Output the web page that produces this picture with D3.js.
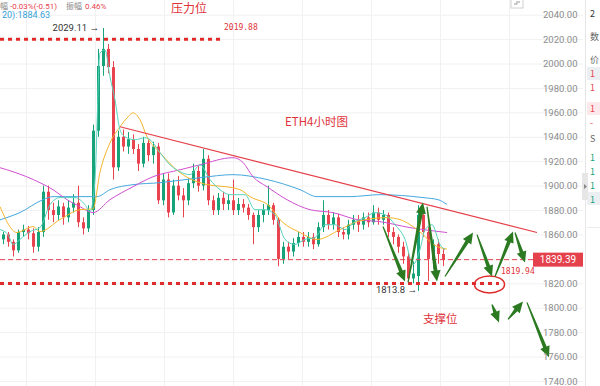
<!DOCTYPE html>
<html>
<head>
<meta charset="utf-8">
<script src="https://cdn.jsdelivr.net/npm/d3@7"></script>
<style>
  body { margin: 0; background: #fff; }
  svg { display: block; }
</style>
</head>
<body>
<div class="chart"></div>
<script>
// 4h candles
var opens  = [1856,1860,1854,1847,1862,1864,1861,1850,1862,1895, 1880,1876,1883,1874,1882,1886,1870,1865,1880,1945,
              1998,2012,1997,1915,1940,1932,1938,1930,1918,1935, 1925,1932,1888,1905,1878,1900,1892,1888,1902,1912,
              1900,1922,1888,1880,1890,1885,1888,1880,1885,1882, 1876,1866,1876,1880,1884,1872,1840,1850,1846,1853,
              1858,1854,1858,1852,1866,1876,1868,1874,1862,1860, 1868,1872,1868,1874,1870,1878,1872,1876,1862,1858,
              1850,1842,1824,1826,1876,1862,1840,1852,1844];
var highs  = [1862,1862,1856,1864,1868,1867,1865,1866,1900,1900, 1886,1888,1886,1888,1893,1900,1874,1884,1950,2012,
              2029.11,2016,2002,1945,1946,1944,1942,1934,1940,1938, 1936,1935,1910,1910,1905,1908,1898,1906,1918,1916,
              1930,1925,1892,1894,1895,1893,1905,1890,1889,1885, 1878,1880,1885,1900,1886,1874,1854,1854,1857,1862,
              1862,1862,1861,1870,1888,1880,1878,1877,1866,1872, 1876,1876,1878,1878,1884,1882,1880,1878,1866,1860,
              1854,1845,1838,1884,1878,1866,1856,1856,1848];
var lows   = [1852,1850,1842,1845,1858,1856,1845,1846,1858,1872, 1870,1872,1868,1870,1878,1866,1860,1862,1876,1940,
              1990,1992,1905,1912,1928,1926,1926,1912,1915,1920, 1918,1885,1884,1874,1876,1888,1874,1884,1898,1895,
              1896,1884,1876,1876,1880,1880,1876,1876,1878,1872, 1852,1862,1870,1876,1868,1834,1836,1840,1842,1850,
              1850,1850,1848,1850,1862,1864,1864,1858,1856,1856, 1864,1862,1864,1866,1868,1868,1868,1858,1852,1845,
              1836,1820,1820,1813.8,1858,1822,1832,1836,1834];
var closes = [1860,1854,1847,1862,1864,1861,1850,1862,1895,1880, 1876,1883,1874,1882,1886,1870,1865,1880,1945,1998,
              2012,1997,1915,1940,1932,1938,1930,1918,1935,1925, 1932,1888,1905,1878,1900,1892,1888,1902,1912,1900,
              1922,1888,1880,1890,1885,1888,1880,1885,1882,1876, 1866,1876,1880,1884,1872,1840,1850,1846,1853,1858,
              1854,1858,1852,1866,1876,1868,1874,1862,1860,1868, 1872,1868,1874,1870,1878,1872,1876,1862,1858,1850,
              1842,1824,1828,1876,1862,1840,1852,1844,1839.39];

// moving average lines, [candle index, price]
var maFast = [[-0.6,1864],[1,1860],[2,1851.8],[3.4,1856],[5.4,1862.4],[7.4,1865.6],[9.4,1884.4],[11.4,1890.2],
              [14.4,1890.2],[16.4,1884.4],[17.4,1878.7],[18.4,1905],[19.4,2008.7],[20.4,2011],[21.4,1989],
              [22.4,1970.3],[23.4,1945.7],[24.4,1940],[26.4,1937.6],[28.4,1939.2],[29.4,1937.6],[31.4,1927],
              [33.4,1917],[35.4,1911.4],[37.4,1909],[39.4,1917],[41.4,1905],[43.4,1896.7],[45.4,1892.6],
              [48.4,1892.6],[50.4,1880.3],[52.4,1880.3],[54.4,1876.2],[56.4,1856],[58.4,1851.8],[60.4,1856],
              [62.4,1857.5],[64.4,1868],[66.4,1868],[68.4,1864],[70.4,1870.5],[72.4,1873.8],[74.4,1877.9],
              [76.4,1876.2],[78.4,1868],[80.4,1856],[82,1835.4],[83.4,1847.7],[84.4,1864],[85.8,1868],
              [87.4,1851.8],[88.4,1847.7]];
var maMid  = [[-0.6,1882.8],[2.8,1861.6],[6,1866.5],[7.4,1862.4],[11.4,1872.2],[15.4,1880.3],[18,1881],
              [19.4,1911],[21.4,1935],[23.4,1948.2],[24.8,1955.4],[26,1959.6],[27.4,1954],[28.8,1940],
              [31.4,1927],[35.4,1910.6],[39.4,1902.4],[47.4,1896.7],[49.4,1891],[53.4,1882.8],[55.4,1872.2],
              [59.4,1861.6],[62.8,1855.9],[67.4,1864],[70.8,1870.5],[76.8,1873.8],[79.4,1872.2],[81.4,1868.1],
              [84,1860],[86,1852],[88.8,1848]];
var maSlow = [[-0.6,1914.7],[2,1911.4],[7.4,1902.4],[10,1896.7],[12.8,1888.5],[15.4,1882.8],[18,1877.9],
              [21.4,1888.5],[26,1899.1],[30,1907.3],[35.4,1913],[39.4,1917.1],[46,1922.9],[48,1919],
              [50,1907.3],[52.8,1899.1],[56.8,1888.5],[61.4,1880.3],[66,1877.9],[70.8,1872.2],[75.4,1870.5],
              [81.4,1865.6],[88.8,1861.6]];
var maLong = [[-0.6,1872],[3.4,1878],[8,1888.5],[10,1891],[14,1891],[18.8,1891],[21.4,1896.7],[26,1900.8],
              [31.4,1902.4],[39.4,1906.5],[46,1909],[52.8,1905],[59.4,1896.7],[62.8,1891],[69.4,1891],
              [75.4,1892.6],[84,1890.2],[87,1888.5],[88.8,1884.63]];

var priceTicks = [2040,2020,2000,1980,1960,1940,1920,1900,1880,1860,1840,1820,1800,1780,1760,1740];
var priceLabels = priceTicks.filter(p => p !== 1840); // hidden behind the price badge
var timeGrid = [4.6,18.4,32.2,46,59.8,73.6,87.4,101.2];

var resistance = 2019.88, support = 1819.94, lastPrice = 1839.39;
var highLabel = [20, 2029.11], lowLabel = [83, 1813.8];
var trend = [[23.4,1948.2],[106.8,1861.6]];
// hand drawn arrows [i1, p1, i2, p2]
var arrows = [[76,1866.5,80.4,1821.5],[81,1820.7,84,1886.1],[84.8,1882.8,86.8,1821.5],[88.4,1825.6,94,1861.6],
              [94.8,1859.9,97.8,1825.6],[98.4,1825.6,102,1862.4],[102.4,1861.6,104.4,1837],
              [97.8,1802.7,99.2,1788],[101,1790.4,104,1805.1],[104.8,1804.3,109.2,1759.4]];

var width = 600, height = 386;
var red = "#e8434e", green = "#17a37a";

var svg = d3.select(".chart").append("svg")
  .attr("width", width).attr("height", height)
  .style("font-family", "Roboto, 'Noto Sans', sans-serif");

var x = d3.scaleLinear().domain([0, 88]).range([3, 443]);
var y = d3.scaleLinear().domain([1740, 2040]).range([381, 14.7]);

// grid
var gy = svg.append("g").call(d3.axisRight(y).tickValues(priceTicks).tickSize(583).tickFormat(""));
var gx = svg.append("g").call(d3.axisBottom(x).tickValues(timeGrid).tickSize(height).tickFormat(""));
[gy, gx].forEach(function (g) {
  g.select(".domain").remove();
  g.selectAll("line").attr("stroke", "#f1f1f1");
});

// candles
var candles = d3.range(opens.length).map(function (i) {
  return { i: i, o: opens[i], h: highs[i], l: lows[i], c: closes[i] };
});
var cg = svg.append("g");
cg.selectAll("line").data(candles).enter().append("line")
  .attr("x1", d => x(d.i) + 0.5).attr("x2", d => x(d.i) + 0.5)
  .attr("y1", d => y(d.h)).attr("y2", d => y(d.l))
  .attr("stroke", d => d.c >= d.o ? green : red).attr("stroke-width", 1);
cg.selectAll("rect").data(candles).enter().append("rect")
  .attr("x", d => x(d.i) - 1)
  .attr("width", 3)
  .attr("y", d => y(Math.max(d.o, d.c)))
  .attr("height", d => Math.max(1, Math.abs(y(d.o) - y(d.c))))
  .attr("fill", d => d.c >= d.o ? green : red);

// moving averages
var line = d3.line().x(d => x(d[0])).y(d => y(d[1])).curve(d3.curveMonotoneX);
[[maLong, "#45a8e0"], [maSlow, "#d150d0"], [maMid, "#f5b52a"], [maFast, "#58d3bd"]].forEach(function (m) {
  svg.append("path").datum(m[0]).attr("d", line)
    .attr("fill", "none").attr("stroke", m[1]).attr("stroke-width", 1);
});

// trend line
svg.append("line")
  .attr("x1", x(trend[0][0])).attr("y1", y(trend[0][1]))
  .attr("x2", x(trend[1][0])).attr("y2", y(trend[1][1]))
  .attr("stroke", "#e5404a").attr("stroke-width", 1.2);

// last price dashed line
svg.append("line")
  .attr("x1", 0).attr("x2", 534)
  .attr("y1", y(lastPrice)).attr("y2", y(lastPrice))
  .attr("stroke", red).attr("stroke-width", 1).attr("stroke-dasharray", "5,3");

// resistance / support dotted
var lvl = svg.append("g");
[[resistance, 43.8], [support, 99.2]].forEach(function (r) {
  lvl.append("line")
    .attr("x1", 0).attr("x2", x(r[1]))
    .attr("y1", y(r[0])).attr("y2", y(r[0]))
    .attr("stroke", "#e02b2b").attr("stroke-width", 3).attr("stroke-dasharray", "4,4");
  lvl.append("text")
    .attr("x", x(r[1]) + 2).attr("y", y(r[0]) - 9)
    .attr("fill", "#e0323a")
    .style("font-family", "'DejaVu Sans Mono', monospace").style("font-size", "8px")
    .text(r[0].toFixed(2));
});

// circle on support
svg.append("ellipse")
  .attr("cx", x(97.3)).attr("cy", y(support) + 1)
  .attr("rx", 15).attr("ry", 8.5)
  .attr("fill", "none").attr("stroke", "#e02b2b").attr("stroke-width", 1.5);

// high / low labels
svg.append("text").attr("x", x(highLabel[0]) - 4).attr("y", y(highLabel[1]) + 3)
  .attr("text-anchor", "end").attr("fill", "#333").style("font-size", "9.5px")
  .text(highLabel[1].toFixed(2) + " \u2192");
svg.append("text").attr("x", x(lowLabel[0]) - 1).attr("y", y(lowLabel[1]) + 2)
  .attr("text-anchor", "end").attr("fill", "#333").style("font-size", "9.5px")
  .text(lowLabel[1] + " \u2192");

// arrows
function arrowPoints(x1, y1, x2, y2) {
  var dx = x2 - x1, dy = y2 - y1, L = Math.sqrt(dx * dx + dy * dy);
  var ux = dx / L, uy = dy / L, nx = -uy, ny = ux;
  var hl = 11, bx = x2 - ux * hl, by = y2 - uy * hl;
  var p = [[x1 + nx * 0.6, y1 + ny * 0.6], [bx + nx * 1.9, by + ny * 1.9], [bx + nx * 5, by + ny * 5], [x2, y2],
           [bx - nx * 5, by - ny * 5], [bx - nx * 1.9, by - ny * 1.9], [x1 - nx * 0.6, y1 - ny * 0.6]];
  return p.map(q => q.join(",")).join(" ");
}
svg.append("g").selectAll("polygon").data(arrows).enter().append("polygon")
  .attr("points", d => arrowPoints(x(d[0]), y(d[1]), x(d[2]), y(d[3])))
  .attr("fill", "#2b7a22");

// annotation texts
var cjk = "'Noto Sans CJK SC', 'Noto Sans', sans-serif";
svg.append("text").attr("x", 171).attr("y", 13).attr("fill", "#e0323a")
  .style("font-family", cjk).style("font-size", "12px").text("压力位");
svg.append("text").attr("x", 285).attr("y", 126).attr("fill", "#e0323a")
  .style("font-family", cjk).style("font-size", "11.5px").text("ETH4小时图");
svg.append("text").attr("x", 423).attr("y", 323).attr("fill", "#e0323a")
  .style("font-family", cjk).style("font-size", "11.5px").text("支撑位");

// header line at the top
var hdr = svg.append("text").attr("y", 8.5).style("font-size", "8px");
hdr.append("tspan").attr("x", 0).attr("fill", "#888").style("font-family", cjk).text("幅");
hdr.append("tspan").attr("x", 10).attr("fill", red).text("-0.03%(-0.51)");
hdr.append("tspan").attr("x", 66).attr("fill", "#888").style("font-family", cjk).text("振幅");
hdr.append("tspan").attr("x", 85).attr("fill", red).text("0.46%");
svg.append("text").attr("x", 2).attr("y", 17.5).attr("fill", "#35a2d8").style("font-size", "9px")
  .text("20):" + maLong[maLong.length - 1][1]);

// small tool icon
svg.append("rect").attr("x", 511).attr("y", -2).attr("width", 12).attr("height", 10)
  .attr("fill", "#fff").attr("stroke", "#d0d0d0");
svg.append("path").attr("d", "M514,4 h3 v-3 M518,2 h2").attr("stroke", "#999").attr("fill", "none");

// price axis
var ax = svg.append("g").attr("transform", "translate(543,0)")
  .call(d3.axisRight(y).tickValues(priceLabels).tickSize(0).tickPadding(0).tickFormat(d3.format(".2f")));
ax.select(".domain").remove();
ax.selectAll("text").attr("fill", "#8c8c8c").style("font-size", "9.5px").style("font-family", "Roboto");

// last price badge
svg.append("rect").attr("x", 533).attr("y", y(lastPrice) - 7).attr("width", 50).attr("height", 14)
  .attr("fill", "#e5414c");
svg.append("text").attr("x", 558).attr("y", y(lastPrice) + 3.5).attr("text-anchor", "middle")
  .attr("fill", "#fff").style("font-size", "10px").text(lastPrice.toFixed(2));

// right side panel (cut off)
var panel = svg.append("g");
panel.append("rect").attr("x", 586).attr("y", 0).attr("width", 14).attr("height", height).attr("fill", "#fff");
panel.append("line").attr("x1", 585.5).attr("x2", 585.5).attr("y1", 0).attr("y2", height).attr("stroke", "#e6e6e6");
panel.append("rect").attr("x", 587).attr("y", 67).attr("width", 13).attr("height", 13).attr("fill", "#eceff2");
panel.append("rect").attr("x", 587).attr("y", 102).attr("width", 13).attr("height", 13).attr("fill", "#fde9eb");
panel.append("rect").attr("x", 587).attr("y", 192).attr("width", 13).attr("height", 13).attr("fill", "#eceff2");
panel.append("line").attr("x1", 587).attr("x2", 600).attr("y1", 227.5).attr("y2", 227.5).attr("stroke", "#ececec");
panel.append("rect").attr("x", 582).attr("y", 173).attr("width", 6).attr("height", 27).attr("fill", "#e6e6e6");
panel.append("path").attr("d", "M584,184 l3,2.5 l-3,2.5 z").attr("fill", "#888");
var panelRows = [[17, "2", "#333"], [40, "数", "#666"], [63, "价", "#666"], [77, "1", red], [91, "1", red],
                 [112, "1", red], [126, "-", red], [142, "S", "#666"], [161, "1", green], [175, "1", green],
                 [189, "1", green], [203, "1", green]];
panel.selectAll("text.row").data(panelRows).enter().append("text")
  .attr("class", "row").attr("x", 590).attr("y", d => d[0]).attr("fill", d => d[2])
  .style("font-size", "9px").style("font-family", cjk).text(d => d[1]);
</script>
</body>
</html>
